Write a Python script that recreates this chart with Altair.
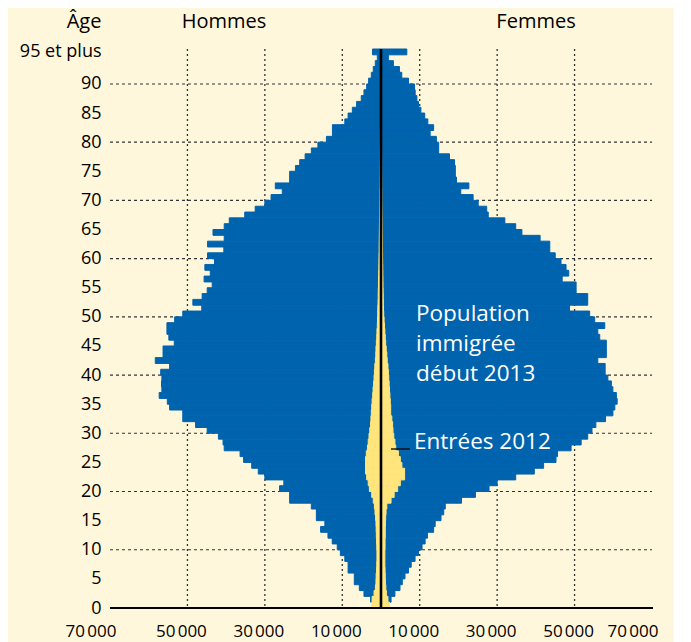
import altair as alt
import pandas as pd

# ---------------- data ----------------
ages = list(range(96))  # 95 = "95 et plus"

hommes_2013 = [1800, 2700, 4400, 5600, 6900, 6900, 8500, 8500, 9350, 10500,
               11300, 12600, 13700, 15600, 14500, 16700, 16700, 18000, 23600, 23600,
               26200, 25100, 30000, 31700, 33400, 35500, 36400, 40500, 40800, 42000,
               44900, 47900, 51200, 51200, 54600, 55200, 57300, 56600, 56700, 56600,
               56900, 54600, 58300, 56300, 56300, 53400, 54800, 55300, 55300, 53300,
               51200, 46300, 48600, 46200, 44900, 43600, 45700, 44100, 45500, 43000,
               44800, 40600, 44800, 40500, 43400, 40500, 39200, 35200, 32500, 30000,
               28400, 25500, 27300, 23600, 23600, 22100, 21000, 19600, 18000, 16300,
               14100, 12550, 12550, 9350, 8500, 7400, 6300, 5100, 4400, 3700,
               3200, 2500, 2000, 1470, 950, 2200]

femmes_2013 = [1800, 2600, 3600, 4900, 5500, 6200, 7100, 7800, 8800, 9700,
               10600, 11400, 12000, 13600, 14000, 15500, 16200, 16600, 20800, 24400,
               27900, 30000, 34800, 39600, 42000, 45200, 45600, 49100, 51700, 53400,
               54500, 55500, 58000, 59900, 60400, 61000, 60800, 59900, 59500, 58600,
               57900, 57900, 56000, 58200, 58200, 58200, 56500, 56000, 57800, 55200,
               53900, 48700, 53400, 53400, 50400, 50400, 46800, 48500, 47800, 46500,
               45000, 43600, 43600, 41100, 36400, 34800, 32000, 27700, 27300, 25100,
               23800, 20600, 22700, 19500, 19200, 19200, 19000, 17700, 14900, 14900,
               14300, 12700, 13600, 12100, 11300, 10300, 9700, 9270, 8830, 8660,
               7100, 5370, 4760, 3200, 1900, 6670]

hommes_entrees = [2400, 2300, 1800, 1450, 1300, 1250, 1150, 1100, 1050, 1050,
                  1100, 1150, 1200, 1250, 1300, 1400, 1550, 1700, 2000, 2400,
                  3000, 3300, 3700, 4000, 4000, 4000, 3800, 3500, 3300, 3100,
                  2900, 2700, 2600, 2500, 2400, 2300, 2150, 2050, 1900, 1800,
                  1700, 1600, 1450, 1350, 1300, 1200, 1100, 1050, 950, 900,
                  850, 820, 760, 720, 700, 650, 640, 600, 560, 540,
                  520, 480, 470, 450, 420, 400, 390, 350, 340, 320,
                  300, 290, 260, 250, 230, 220, 200, 190, 180, 160,
                  150, 150, 130, 120, 110, 100, 100, 90, 80, 70,
                  60, 50, 40, 40, 30, 30]

femmes_entrees = [2200, 1800, 1400, 1250, 1150, 1100, 1050, 1000, 1000, 1000,
                  1050, 1050, 1100, 1100, 1150, 1200, 1300, 1500, 2600, 3400,
                  4300, 5000, 6100, 6100, 5400, 5000, 4500, 3800, 3600, 3300,
                  3100, 3000, 2800, 2500, 2500, 2400, 2300, 2200, 2100, 2000,
                  1900, 1800, 1600, 1500, 1350, 1200, 1100, 1000, 900, 800,
                  700, 650, 620, 580, 550, 520, 500, 470, 450, 420,
                  400, 380, 360, 340, 320, 300, 290, 270, 260, 240,
                  230, 220, 200, 190, 180, 170, 160, 150, 140, 130,
                  120, 110, 100, 100, 90, 80, 70, 60, 60, 50,
                  50, 40, 40, 30, 30, 30]

age_ticks = [0, 5, 10, 15, 20, 25, 30, 35, 40, 45, 50, 55, 60, 65, 70, 75, 80, 85, 90, 95.5]
grid_ages = [10, 20, 30, 40, 50, 60, 70, 80, 90]
grid_x = [-50000, -30000, -10000, 10000, 30000, 50000]
x_ticks = [-70000, -50000, -30000, -10000, 10000, 30000, 50000, 70000]
x_tick_labels = ["70\u202f000", "50\u202f000", "30\u202f000", "10\u202f000",
                 "10\u202f000", "30\u202f000", "50\u202f000", "70\u202f000"]

# ---------------- tables ----------------
rows = []
for i, a in enumerate(ages):
    rows.append(dict(age=a, age2=a + 1, serie="pop", v=-hommes_2013[i], base=0))
    rows.append(dict(age=a, age2=a + 1, serie="pop", v=femmes_2013[i], base=0))
    rows.append(dict(age=a, age2=a + 1, serie="ent", v=-hommes_entrees[i], base=0))
    rows.append(dict(age=a, age2=a + 1, serie="ent", v=femmes_entrees[i], base=0))
df = pd.DataFrame(rows)

ticks_df = pd.DataFrame({"v": x_ticks, "lab": x_tick_labels})

FONT = "Open Sans"
BLUE = "#0063AE"
YELLOW = "#FFE57C"
CREAM = "#FFF7DC"
GRID = "#333333"
W, H = 542, 559

X = alt.Scale(domain=[-70000, 70000], nice=False, zero=False)
Y = alt.Scale(domain=[0, 96], nice=False, zero=False)
YAX = alt.Axis(
    values=age_ticks, labelExpr="datum.value > 95 ? '95 et plus' : datum.label",
    grid=False, ticks=False, domain=False, title=None, labelOverlap=False,
    labelFont=FONT, labelFontSize=18, labelColor="black", labelPadding=9,
    labelBound=False, labelFlush=False)


def yenc(field="age:Q"):
    return alt.Y(field, scale=Y, axis=YAX)


# ---------------- layers ----------------
hgrid = alt.Chart(pd.DataFrame({"age": grid_ages})).mark_rule(
    color=GRID, strokeWidth=1.1, strokeDash=[3, 3]
).encode(y=yenc(), x=alt.value(0), x2=alt.value(W))

vgrid = alt.Chart(pd.DataFrame({"v": grid_x})).mark_rule(
    color=GRID, strokeWidth=1.3, strokeDash=[2, 3]
).encode(x=alt.X("v:Q", scale=X, axis=None), y=alt.value(0), y2=alt.value(H))

pop = alt.Chart(df).transform_filter("datum.serie == 'pop'").mark_rect(
    color=BLUE, stroke=BLUE, strokeWidth=1
).encode(
    x=alt.X("v:Q", scale=X, axis=None), x2="base:Q",
    y=yenc(), y2="age2:Q",
)

ent = alt.Chart(df).transform_filter("datum.serie == 'ent'").mark_rect(
    color=YELLOW, stroke=YELLOW, strokeWidth=1
).encode(
    x=alt.X("v:Q", scale=X, axis=None), x2="base:Q",
    y=yenc(), y2="age2:Q",
)

baseline = alt.Chart(pd.DataFrame({"age": [0]})).mark_rule(color="black", strokeWidth=2).encode(
    y=yenc(), x=alt.value(0), x2=alt.value(W + 1))

center = alt.Chart(pd.DataFrame({"v": [0]})).mark_rule(color="black", strokeWidth=2.6).encode(
    x=alt.X("v:Q", scale=X, axis=None), y=alt.value(0), y2=alt.value(H))

xlab_mid = alt.Chart(ticks_df).transform_filter("abs(datum.v) < 70000").mark_text(
    font=FONT, fontSize=17, color="black", baseline="middle", align="center", dx=-6
).encode(x=alt.X("v:Q", scale=X, axis=None), y=alt.value(H + 24), text="lab:N")

xlab_end = alt.Chart(ticks_df).transform_filter("abs(datum.v) >= 70000").mark_text(
    font=FONT, fontSize=17, color="black", baseline="middle", align="center", dx=-19
).encode(x=alt.X("v:Q", scale=X, axis=None), y=alt.value(H + 24), text="lab:N")


def label(txt, x, y, size=18, color="black", align="center", baseline="alphabetic"):
    return alt.Chart(pd.DataFrame({"t": [0]})).mark_text(
        font=FONT, fontSize=size, color=color, align=align, baseline=baseline,
        lineHeight=30
    ).encode(x=alt.value(x), y=alt.value(y), text=alt.value(txt))


t_age = label("Âge", -26, -21, size=20)
t_h = label("Hommes", 114, -21, size=20)
t_f = label("Femmes", 426, -21, size=20)
t_pop = label(["Population", "immigrée", "début 2013"], 306, 272, size=22.5,
              color="white", align="left")
t_ent = label("Entrées 2012", 304, 400, size=22.5, color="white", align="left")
pointer = alt.Chart(pd.DataFrame({"t": [0]})).mark_rule(color="black", strokeWidth=1.3).encode(
    x=alt.value(281), x2=alt.value(300), y=alt.value(400))

chart = alt.layer(
    hgrid, vgrid, pop, ent, baseline, center, pointer,
    xlab_mid, xlab_end, t_age, t_h, t_f, t_pop, t_ent
).properties(
    width=W, height=H,
    autosize=alt.AutoSizeParams(type="none"),
    padding={"left": 102, "top": 41, "right": 22, "bottom": 34},
    background=CREAM,
).configure_view(stroke=None)

chart.save("out.html", embed_options={"renderer": "svg", "actions": False})
